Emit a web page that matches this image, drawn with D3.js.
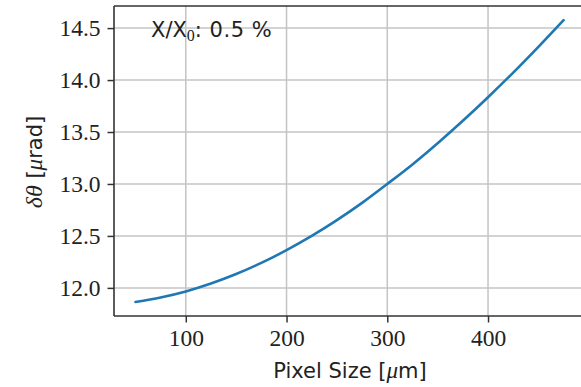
<!DOCTYPE html>
<html><head><meta charset="utf-8">
<script src="https://cdn.jsdelivr.net/npm/d3@7"></script>
<style>
body{margin:0;background:#fff;}
svg{display:block;}
.serif{font-family:"Liberation Serif","DejaVu Serif",serif;}
.sans{font-family:"DejaVu Sans",sans-serif;}
</style></head>
<body><svg id="c" width="581" height="387"></svg>
<script>
const pixelSize = [50,75,100,125,150,175,200,225,250,275,300,325,350,375,400,425,450,475];
const dTheta = [11.865,11.908,11.966,12.042,12.133,12.240,12.363,12.500,12.652,12.818,13.000,13.188,13.392,13.608,13.835,14.072,14.320,14.577];
const xTicks = [100,200,300,400];
const yTicks = [12.0,12.5,13.0,13.5,14.0,14.5];
const annotation = {pre:"X/X", sub:"0", post:": 0.5 %"};

const svg = d3.select("#c");
const L=114, T=6, B=316, R=585;
const xPad = (d3.max(pixelSize)-d3.min(pixelSize))*0.05;
const yPad = (d3.max(dTheta)-d3.min(dTheta))*0.05;
const x = d3.scaleLinear().domain([d3.min(pixelSize)-xPad, d3.max(pixelSize)+xPad]).range([L,R]);
const y = d3.scaleLinear().domain([d3.min(dTheta)-yPad, d3.max(dTheta)+yPad]).range([B,T]);

// grid
const g = svg.append("g");
g.selectAll(".gx").data(xTicks).join("line")
  .attr("x1",d=>x(d)).attr("x2",d=>x(d)).attr("y1",T).attr("y2",B)
  .attr("stroke","#c4c4c4").attr("stroke-width",1.5);
g.selectAll(".gy").data(yTicks).join("line")
  .attr("x1",L).attr("x2",R).attr("y1",d=>y(d)).attr("y2",d=>y(d))
  .attr("stroke","#c4c4c4").attr("stroke-width",1.5);

// line
svg.append("path").datum(pixelSize.map((p,i)=>[p,dTheta[i]]))
  .attr("fill","none").attr("stroke","#1f77b4").attr("stroke-width",2.6)
  .attr("stroke-linecap","round")
  .attr("d", d3.line().curve(d3.curveMonotoneX).x(d=>x(d[0])).y(d=>y(d[1])));

// axes
const xAxis = svg.append("g").attr("transform",`translate(0,${B})`)
  .call(d3.axisBottom(x).tickValues(xTicks).tickSize(6.5).tickPadding(7).tickFormat(d3.format("d")));
const yAxis = svg.append("g").attr("transform",`translate(${L},0)`)
  .call(d3.axisLeft(y).tickValues(yTicks).tickSize(6.5).tickPadding(7).tickFormat(d3.format(".1f")));
[xAxis,yAxis].forEach(a=>{
  a.select(".domain").remove();
  a.selectAll("line").attr("stroke","#333").attr("stroke-width",1.5);
  a.selectAll("text").attr("class","serif").attr("font-size",23.5).attr("fill","#222");
});
xAxis.selectAll("text").attr("dy","0.72em");

// spines
svg.append("line").attr("x1",L).attr("x2",L).attr("y1",T).attr("y2",B).attr("stroke","#333").attr("stroke-width",1.6);
svg.append("line").attr("x1",L).attr("x2",R).attr("y1",B).attr("y2",B).attr("stroke","#333").attr("stroke-width",1.6);
svg.append("line").attr("x1",L).attr("x2",R).attr("y1",T).attr("y2",T).attr("stroke","#333").attr("stroke-width",1.6);

// x label
const xl = svg.append("text").attr("x",350).attr("y",378).attr("text-anchor","middle")
  .attr("class","sans").attr("font-size",21).attr("fill","#222");
xl.append("tspan").text("Pixel Size [");
xl.append("tspan").attr("class","serif").attr("font-style","italic").attr("font-size",23).text("μ");
xl.append("tspan").text("m]");

// y label
const yl = svg.append("text").attr("transform","translate(42,162) rotate(-90)").attr("text-anchor","middle")
  .attr("class","sans").attr("font-size",21).attr("fill","#222");
yl.append("tspan").attr("class","serif").attr("font-style","italic").attr("font-size",24).text("δθ");
yl.append("tspan").text(" [");
yl.append("tspan").attr("class","serif").attr("font-style","italic").attr("font-size",23).text("μ");
yl.append("tspan").text("rad]");

// annotation
const an = svg.append("text").attr("x",151).attr("y",37).attr("class","sans").attr("font-size",21).attr("fill","#222");
an.append("tspan").text(annotation.pre);
an.append("tspan").attr("class","serif").attr("font-size",16).attr("dy",4).text(annotation.sub);
an.append("tspan").attr("dy",-4).attr("letter-spacing",0.5).text(annotation.post);
</script></body></html>
